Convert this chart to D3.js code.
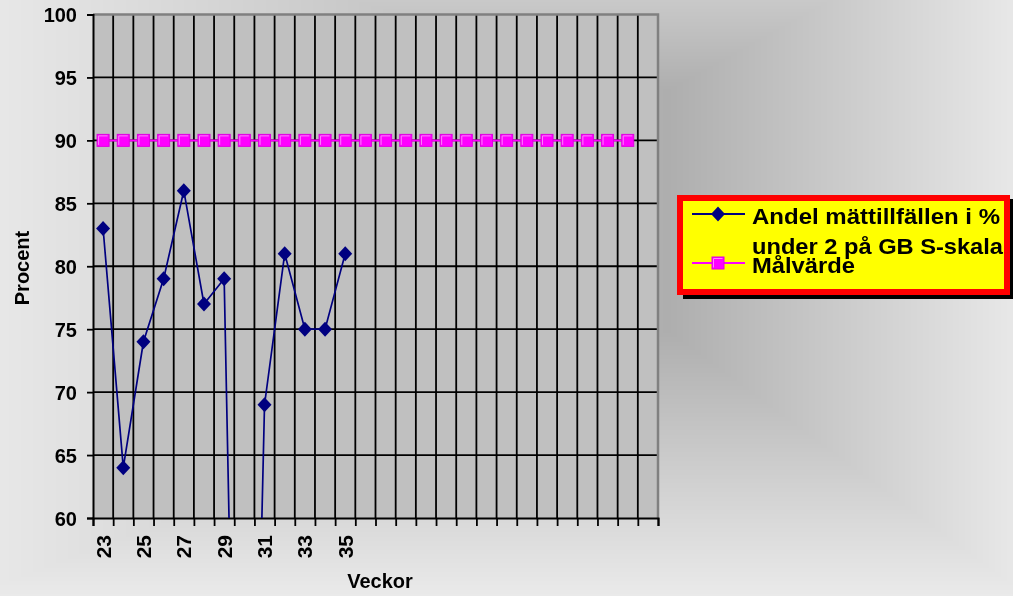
<!DOCTYPE html>
<html>
<head>
<meta charset="utf-8">
<script src="https://cdn.jsdelivr.net/npm/d3@7"></script>
<style>
  html, body { margin: 0; padding: 0; overflow: hidden; }
  #wrap { position: relative; width: 1013px; height: 596px; }
  #bg, #chart { position: absolute; left: 0; top: 0; }
  text { font-family: "Liberation Sans", Arial, sans-serif; font-weight: bold; fill: #000; }
</style>
</head>
<body>
<div id="wrap">
  <canvas id="bg" width="1013" height="596"></canvas>
  <svg id="chart" width="1013" height="596"></svg>
</div>
<script>
// Weeks on the x axis (labels only for the measured weeks)
const weeks = ["23","24","25","26","27","28","29","30","31","32","33","34","35",
               "","","","","","","","","","","","","","",""];
// Share of measurements under 2 on the GB S-scale, per week (null = no data)
const andel = [83, 64, 74, 79, 86, 77, 79, 0, 69, 81, 75, 75, 81,
               null, null, null, null, null, null, null, null, null, null, null, null, null, null, null];
// Target value
const malvarde = [90, 90, 90, 90, 90, 90, 90, 90, 90, 90, 90, 90, 90, 90,
                  90, 90, 90, 90, 90, 90, 90, 90, 90, 90, 90, 90, 90, null];
const yTicks = [60, 65, 70, 75, 80, 85, 90, 95, 100];
const legendLabels = [["Andel mättillfällen i %", "under 2 på GB S-skala"], ["Målvärde"]];

const W = 1013, H = 596;

// ---- background: rectangular "from centre" grey gradient ----
(function paintBackground() {
  const ctx = document.getElementById("bg").getContext("2d");
  const img = ctx.createImageData(W, H);
  const cx = 668, yA = 90, yB = 330;
  const dark = 0xae, light = 0xea;
  for (let y = 0; y < H; y++) {
    const ty = y < yA ? (yA - y) / 200 : (y > yB ? (y - yB) / 266 : 0);
    for (let x = 0; x < W; x++) {
      const tx = x < cx ? (cx - x) / 700 : (x - cx) / 360;
      const t = Math.min(1, Math.max(tx, ty));
      const v = Math.round(dark + (light - dark) * t);
      const i = (y * W + x) * 4;
      img.data[i] = v; img.data[i + 1] = v; img.data[i + 2] = v; img.data[i + 3] = 255;
    }
  }
  ctx.putImageData(img, 0, 0);
})();

const svg = d3.select("#chart");
const plot = { left: 93, right: 658, top: 14.5, bottom: 518 };

const x = d3.scaleBand().domain(d3.range(weeks.length)).range([plot.left, plot.right]).padding(0);
const xEdge = d3.scaleLinear().domain([0, weeks.length]).range([plot.left, plot.right]);
const y = d3.scaleLinear().domain([60, 100]).range([plot.bottom, plot.top]);

// plot area
svg.append("rect")
  .attr("x", plot.left).attr("y", plot.top)
  .attr("width", plot.right - plot.left).attr("height", plot.bottom - plot.top)
  .attr("fill", "#c0c0c0");

// gridlines
const grid = svg.append("g").attr("stroke", "#000").attr("stroke-width", 1.8);
grid.selectAll("line.v").data(d3.range(1, weeks.length)).join("line")
  .attr("x1", d => xEdge(d)).attr("x2", d => xEdge(d))
  .attr("y1", plot.top).attr("y2", plot.bottom);
grid.selectAll("line.h").data(yTicks.slice(1, -1)).join("line")
  .attr("x1", plot.left).attr("x2", plot.right)
  .attr("y1", d => y(d)).attr("y2", d => y(d));

// plot border (top and right)
svg.append("path")
  .attr("d", `M${plot.left},${plot.top}H${plot.right}V${plot.bottom}`)
  .attr("fill", "none").attr("stroke", "#808080").attr("stroke-width", 2.5);

// y axis
const yAxis = svg.append("g").attr("transform", `translate(${plot.left},0)`)
  .call(d3.axisLeft(y).tickValues(yTicks).tickSize(6).tickPadding(10).tickFormat(d3.format("d")));
yAxis.select(".domain").attr("stroke", "#000").attr("stroke-width", 2);
yAxis.selectAll(".tick line").attr("stroke", "#000").attr("stroke-width", 1.8);
yAxis.selectAll(".tick text").style("font-size", "20px")
  .attr("font-family", null).attr("dy", "0.36em");

// x axis: ticks at category boundaries
const xAxis = svg.append("g").attr("transform", `translate(0,${plot.bottom})`)
  .call(d3.axisBottom(xEdge).tickValues(d3.range(weeks.length + 1)).tickSize(8).tickFormat(""));
xAxis.select(".domain").attr("stroke", "#000").attr("stroke-width", 2);
xAxis.selectAll(".tick line").attr("stroke", "#000").attr("stroke-width", 1.8);

// x labels, every second week, rotated
svg.append("g").selectAll("text")
  .data(weeks.map((w, i) => ({ w, i })).filter(d => d.i % 2 === 0 && d.w !== ""))
  .join("text")
  .attr("transform", d => `translate(${x(d.i) + x.bandwidth() / 2 + 7.5},535) rotate(-90)`)
  .attr("text-anchor", "end")
  .style("font-size", "21px")
  .text(d => d.w);

// axis titles
svg.append("text").attr("transform", "translate(29,268) rotate(-90)")
  .attr("text-anchor", "middle").style("font-size", "20px").text("Procent");
svg.append("text").attr("x", 380).attr("y", 588)
  .attr("text-anchor", "middle").style("font-size", "20px").text("Veckor");

// series
svg.append("clipPath").attr("id", "plotClip").append("rect")
  .attr("x", plot.left).attr("y", plot.top)
  .attr("width", plot.right - plot.left).attr("height", plot.bottom - plot.top);
const series = svg.append("g").attr("clip-path", "url(#plotClip)");
const cxOf = i => x(i) + x.bandwidth() / 2;
const line = d3.line().defined(d => d != null).x((d, i) => cxOf(i)).y(d => y(d));

const diamond = "M0,-7.5L7,0L0,7.5L-7,0Z";
function square(g, s) {
  const h = s / 2;
  g.append("rect").attr("x", -h).attr("y", -h).attr("width", s).attr("height", s)
    .attr("fill", "#ff00ff").attr("stroke", "#e000e0").attr("stroke-width", 1);
  g.append("path").attr("d", `M${-h + 1.5},${h - 1.5}V${-h + 1.5}H${h - 1.5}`).attr("fill", "none")
    .attr("stroke", "#ff80ff").attr("stroke-width", 1);
}

series.append("path").datum(malvarde).attr("d", line)
  .attr("fill", "none").attr("stroke", "#ff00ff").attr("stroke-width", 2);
series.selectAll("g.sq").data(malvarde.map((v, i) => ({ v, i })).filter(d => d.v != null))
  .join("g").attr("transform", d => `translate(${cxOf(d.i)},${y(d.v)})`)
  .each(function () { square(d3.select(this), 12); });

series.append("path").datum(andel).attr("d", line)
  .attr("fill", "none").attr("stroke", "#000080").attr("stroke-width", 1.7);
series.selectAll("path.dm").data(andel.map((v, i) => ({ v, i })).filter(d => d.v != null))
  .join("path").attr("d", diamond).attr("fill", "#000080")
  .attr("transform", d => `translate(${cxOf(d.i)},${y(d.v)})`);

// legend
const lg = svg.append("g");
lg.append("rect").attr("x", 683).attr("y", 199).attr("width", 333).attr("height", 100).attr("fill", "#000");
lg.append("rect").attr("x", 680).attr("y", 198).attr("width", 327).attr("height", 94)
  .attr("fill", "#ffff00").attr("stroke", "#ff0000").attr("stroke-width", 6);

lg.append("line").attr("x1", 692).attr("x2", 745).attr("y1", 214).attr("y2", 214)
  .attr("stroke", "#000080").attr("stroke-width", 2);
lg.append("path").attr("d", diamond).attr("fill", "#000080").attr("transform", "translate(718,214)");
lg.append("line").attr("x1", 692).attr("x2", 745).attr("y1", 263).attr("y2", 263)
  .attr("stroke", "#ff00ff").attr("stroke-width", 2);
lg.append("g").attr("transform", "translate(718,263)").call(square, 12);

const legendText = [
  { t: legendLabels[0][0], y: 224, w: 248 },
  { t: legendLabels[0][1], y: 254, w: 251 },
  { t: legendLabels[1][0], y: 273, w: 103 }
];
lg.selectAll("text").data(legendText).join("text")
  .attr("x", 752).attr("y", d => d.y)
  .attr("textLength", d => d.w).attr("lengthAdjust", "spacingAndGlyphs")
  .style("font-size", "22px").text(d => d.t);
</script>
</body>
</html>
